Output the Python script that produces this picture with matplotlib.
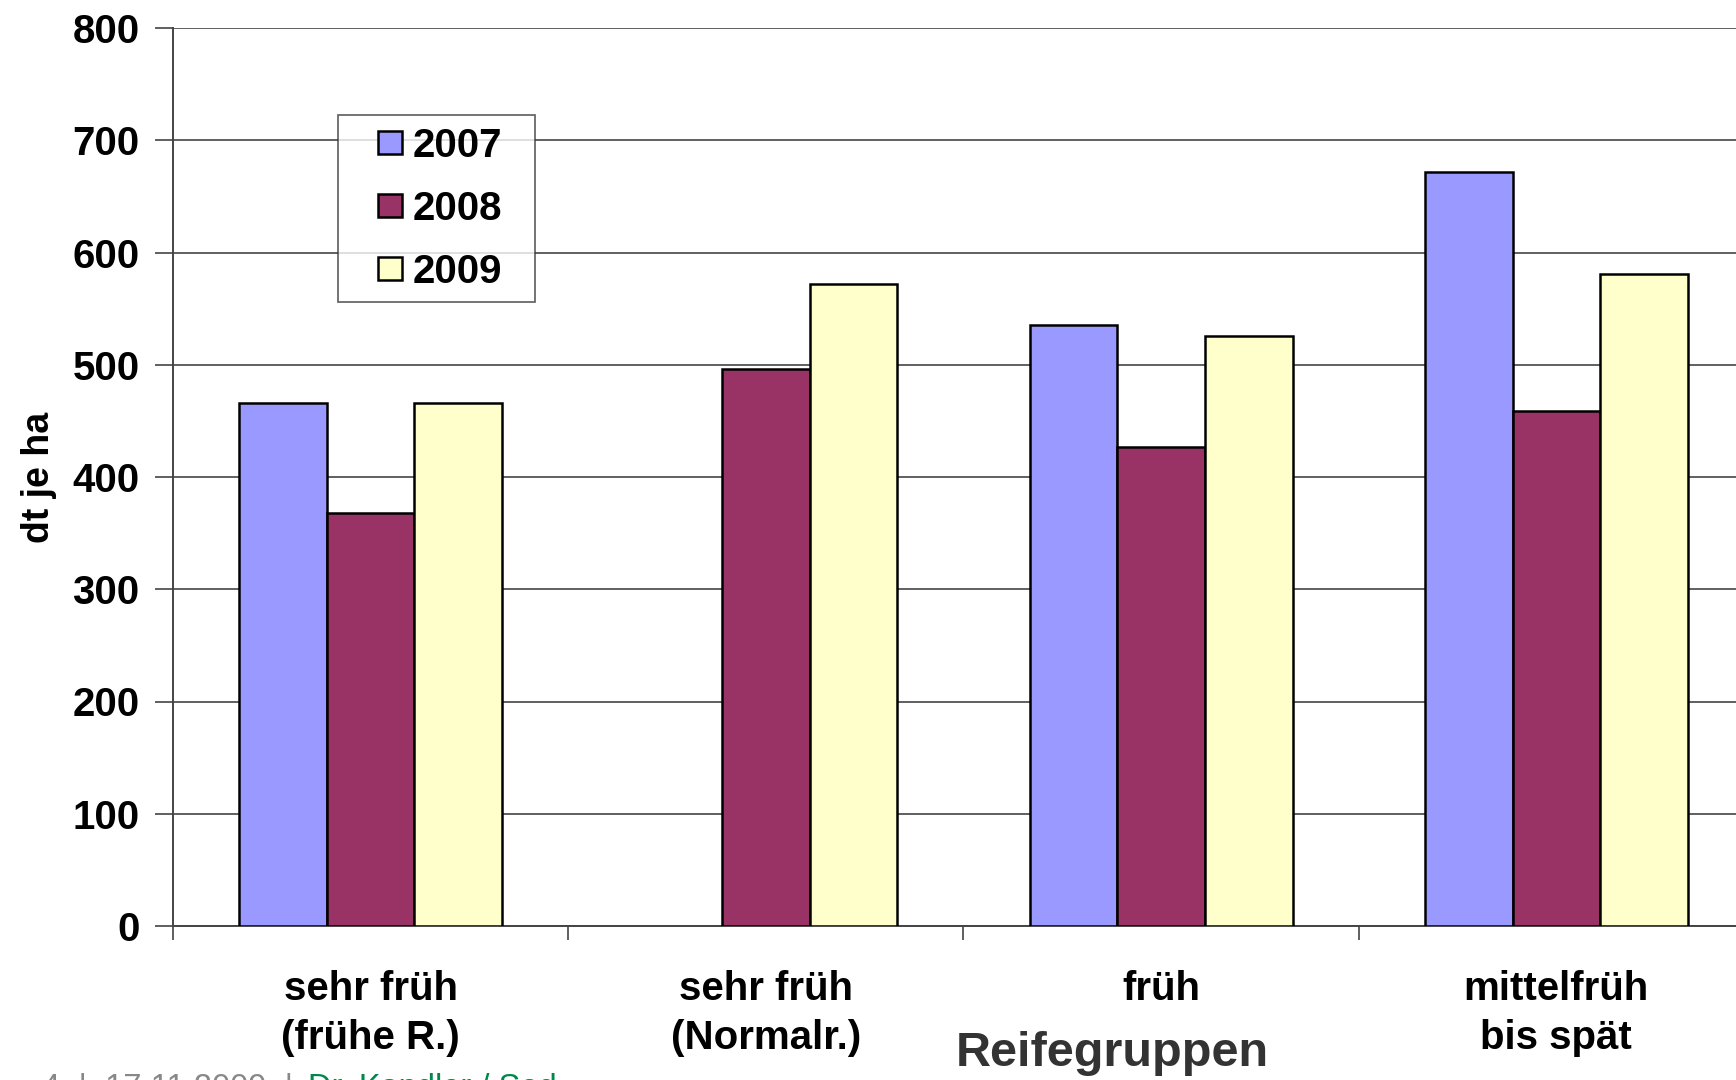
import matplotlib
matplotlib.use("Agg")
import matplotlib.pyplot as plt
from matplotlib.patches import Rectangle
from matplotlib.legend_handler import HandlerPatch
import numpy as np

plt.rcParams['font.family'] = ['Liberation Sans', 'DejaVu Sans']

categories = ["sehr früh\n(frühe R.)", "sehr früh\n(Normalr.)", "früh", "mittelfrüh\nbis spät"]
years = ["2007", "2008", "2009"]
v2007 = [466, np.nan, 535, 672]
v2008 = [368, 496, 427, 459]
v2009 = [466, 572, 526, 581]
yticks = [0, 100, 200, 300, 400, 500, 600, 700, 800]
colors = ["#9999FF", "#993366", "#FFFFCC"]

W, H = 1736, 1080
fig = plt.figure(figsize=(W / 100, H / 100), dpi=100)
ax_left, ax_right, ax_top, ax_bottom = 173, 1754, 28, 926
ax = fig.add_axes([ax_left / W, 1 - ax_bottom / H, (ax_right - ax_left) / W, (ax_bottom - ax_top) / H])

x = np.arange(len(categories))
bw = 0.222
series = [v2007, v2008, v2009]
for i, (vals, c, yr) in enumerate(zip(series, colors, years)):
    ax.bar(x + (i - 1) * bw, vals, width=bw, color=c, edgecolor="black", linewidth=1.8, zorder=3)

ax.set_xlim(-0.5, len(categories) - 0.5)
ax.set_ylim(0, 800)
ax.set_yticks(yticks)
ax.set_yticklabels([str(t) for t in yticks])
ax.grid(axis="y", color="#444444", linewidth=1.2, zorder=0)
ax.set_axisbelow(True)

ax.set_xticks(x)
ax.set_xticklabels(categories, fontsize=29, fontweight="bold", linespacing=1.36)
ax.set_xticks(np.arange(len(categories)) - 0.5, minor=True)
ax.tick_params(axis="x", which="major", length=0, pad=31.5)
ax.tick_params(axis="x", which="minor", length=10, width=1.2, direction="out", color="#444444")
ax.tick_params(axis="y", length=13, width=1.2, direction="out", pad=11, labelsize=29, color="#444444")
for lab in ax.get_yticklabels():
    lab.set_fontweight("bold")

for s in ["top", "right"]:
    ax.spines[s].set_visible(False)
for s in ["left", "bottom"]:
    ax.spines[s].set_color("#444444")
    ax.spines[s].set_linewidth(1.4)

ax.set_ylabel("dt je ha", fontsize=27, fontweight="bold")
ax.yaxis.set_label_coords(-0.0734, 0.5)


class SquareHandler(HandlerPatch):
    def create_artists(self, legend, orig_handle, xdescent, ydescent, width, height, fontsize, trans):
        s = 17.0
        px = -xdescent + width - s
        py = -ydescent + (height - s) / 2
        p = Rectangle((px, py), s, s, facecolor=orig_handle.get_facecolor(),
                      edgecolor="black", linewidth=1.8, transform=trans)
        return [p]


proxies = [Rectangle((0, 0), 1, 1, facecolor=c) for c in colors]
leg = ax.legend(proxies, years, loc="upper left", bbox_to_anchor=(0.1044, 0.5, 0.1246, 0.4030),
                mode="expand", borderaxespad=0,
                prop={"size": 29, "weight": "bold"}, frameon=True, fancybox=False,
                edgecolor="#333333", handlelength=1.29, handleheight=0.7,
                handletextpad=0.28, labelspacing=0.62, borderpad=0.29,
                handler_map={Rectangle: SquareHandler()})
leg.get_frame().set_linewidth(1.2)

fig.text(1112 / W, 1 - 1054 / H, "Reifegruppen", fontsize=35, fontweight="bold",
         color="#333333", ha="center", va="center")

fig.text(42 / W, -0.0153, "4  |  17.11.2009  |", fontsize=23.5, color="#888888", ha="left", va="baseline")
fig.text(308 / W, -0.0153, "Dr. Kandler / Sed", fontsize=23.5, color="#00884A", ha="left", va="baseline")

fig.savefig("out.png", dpi=100)
